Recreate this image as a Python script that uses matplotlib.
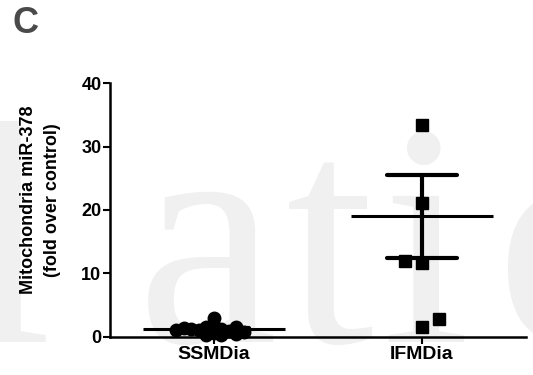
import matplotlib
matplotlib.use("Agg")
import matplotlib.pyplot as plt
import numpy as np

categories = ["SSMDia", "IFMDia"]

# individual values (fold over control)
ssm_values = [2.9, 1.7, 1.5, 1.3, 1.1, 0.9, 0.6, 0.3, 1.6, 1.2, 0.8, 0.5, 1.4, 1.0, 0.2]
ifm_values = [33.4, 21.1, 11.7, 12.0, 1.6, 2.8]

# mean and SEM as drawn
means = [1.2, 19.0]
sems = [0.2, 6.6]

plt.rcParams['font.family'] = ['Liberation Sans', 'DejaVu Sans']


def spread(values, thr, step):
    # column scatter: push a point sideways when it would overlap one already placed
    placed = []
    offsets = []
    side = -1
    for v in values:
        k = 0
        order = [0]
        for n in range(1, 10):
            order += [side * n, -side * n]
        for k in order:
            if all(abs(v - pv) >= thr for pk, pv in placed if pk == k):
                break
        if k != 0:
            side = -side
        placed.append((k, v))
        offsets.append(k * step)
    return np.array(offsets)


fig = plt.figure(figsize=(5.33, 3.75), dpi=100)

# faint watermark behind the chart
for ch, xc in zip("latio", [8, 207, 330, 425, 575]):
    fig.text(xc / 533, 1 - 342 / 375, ch, fontsize=228, family='Liberation Serif',
             color='#f0f0f0', ha='center', va='baseline', zorder=-5)

ax = fig.add_axes([0.206, 0.102, 0.781, 0.676])
ax.patch.set_visible(False)

groups = [ssm_values, ifm_values]
markers = ['o', 's']
sizes = [9, 8.5]
thrs = [1.0, 2.0]
steps = [0.036, 0.08]

for i, vals in enumerate(groups):
    offs = spread(vals, thrs[i], steps[i])
    ax.plot(i + offs, vals, linestyle='none', marker=markers[i], ms=sizes[i],
            color='black', clip_on=False, zorder=3)
    # mean line
    ax.plot([i - 0.34, i + 0.34], [means[i], means[i]], color='black', lw=2.2,
            solid_capstyle='butt', zorder=4, clip_on=False)
    # SEM bar with caps
    lo, hi = means[i] - sems[i], means[i] + sems[i]
    ax.plot([i, i], [lo, hi], color='black', lw=3, solid_capstyle='butt', zorder=4)
    for y in (lo, hi):
        ax.plot([i - 0.17, i + 0.17], [y, y], color='black', lw=3,
                solid_capstyle='round', zorder=4)

ax.set_xlim(-0.5, 1.5)
ax.set_ylim(0, 40)
ax.set_yticks([0, 10, 20, 30, 40])
ax.set_xticks([0, 1])
ax.set_xticklabels(categories, fontsize=14, fontweight='bold')
for lab in ax.get_yticklabels():
    lab.set_fontsize(13)
    lab.set_fontweight('bold')

for s in ['top', 'right']:
    ax.spines[s].set_visible(False)
for s in ['left', 'bottom']:
    ax.spines[s].set_linewidth(1.8)
ax.tick_params(axis='both', length=5, width=1.5, direction='out')
ax.tick_params(axis='y', pad=1)
ax.tick_params(axis='x', pad=2)

ax.set_ylabel("Mitochondria miR-378\n(fold over control)", fontsize=13,
              fontweight='bold', linespacing=1.5, va='center')
ax.yaxis.set_label_coords(-0.166, 0.54)

fig.text(12 / 533, 1 - 33 / 375, "C", fontsize=26, fontweight='bold',
         color='#4a4a4a', va='baseline', ha='left')

fig.savefig("out.png", dpi=100)
